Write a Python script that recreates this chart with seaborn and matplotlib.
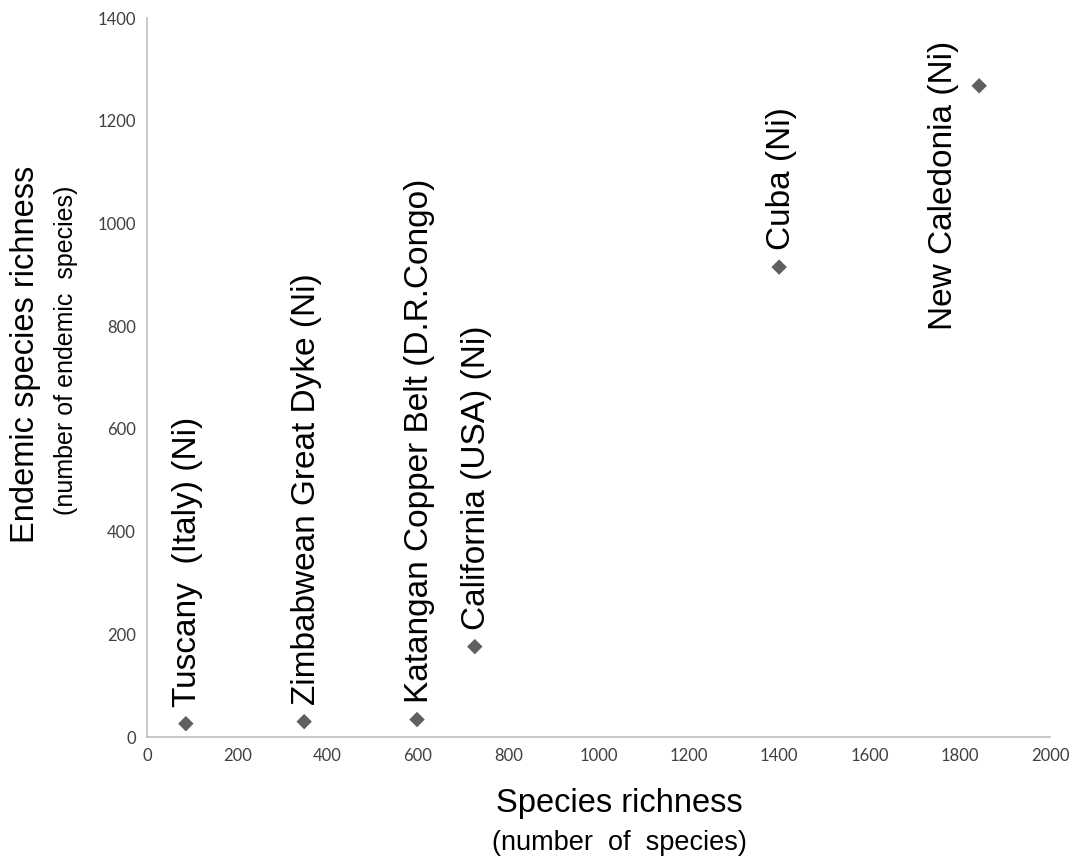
import matplotlib
matplotlib.use("Agg")
import pandas as pd
import seaborn as sns
import matplotlib.pyplot as plt

sites = ["Tuscany  (Italy) (Ni)", "Zimbabwean Great Dyke (Ni)", "Katangan Copper Belt (D.R.Congo)",
         "California (USA) (Ni)", "Cuba (Ni)", "New Caledonia (Ni)"]
species = [86, 348, 598, 726, 1400, 1843]
endemic = [26, 30, 34, 176, 915, 1268]

df = pd.DataFrame({"site": sites, "species": species, "endemic": endemic})

sns.set_style("white")
plt.rcParams["font.family"] = ["Liberation Sans", "DejaVu Sans"]
plt.rcParams["text.color"] = "black"

fig, ax = plt.subplots(figsize=(10.74, 8.58), dpi=100)
fig.subplots_adjust(left=0.1369, right=0.9777, bottom=0.141, top=0.979)

sns.scatterplot(data=df, x="species", y="endemic", marker="D", s=62,
                color="#5f5f5f", edgecolor="none", ax=ax)

for i, row in df.iterrows():
    if row["site"].startswith("New Caledonia"):
        ax.annotate(row["site"], (row["species"], row["endemic"]), xytext=(-36, 45),
                    textcoords="offset pixels", rotation=90, ha="center", va="top",
                    fontsize=24, color="black")
    else:
        ax.annotate(row["site"], (row["species"], row["endemic"]), xytext=(2, 17),
                    textcoords="offset pixels", rotation=90, ha="center", va="bottom",
                    fontsize=24, color="black")

ax.set_xlim(0, 2000)
ax.set_ylim(0, 1400)
ax.set_xticks(range(0, 2001, 200))
ax.set_yticks(range(0, 1401, 200))
ax.set_xlabel("")
ax.set_ylabel("")
sns.despine(ax=ax)
for side in ["left", "bottom"]:
    ax.spines[side].set_color("#bfbfbf")
    ax.spines[side].set_linewidth(1.2)
ax.tick_params(axis="both", direction="out", length=5, width=1, color="#bfbfbf",
               labelsize=12, labelcolor="#404040", pad=3)
for lab in ax.get_xticklabels() + ax.get_yticklabels():
    lab.set_fontfamily("Lato")

fig.text(0.0233, 0.5874, "Endemic species richness", rotation=90, ha="center", va="center", fontsize=23.5)
fig.text(0.0615, 0.592, "(number of endemic  species)", rotation=90, ha="center", va="center", fontsize=18)
fig.text(0.577, 0.063, "Species richness", ha="center", va="center", fontsize=23.5)
fig.text(0.577, 0.0175, "(number  of  species)", ha="center", va="center", fontsize=19.5)

fig.savefig("out.png", dpi=100)
